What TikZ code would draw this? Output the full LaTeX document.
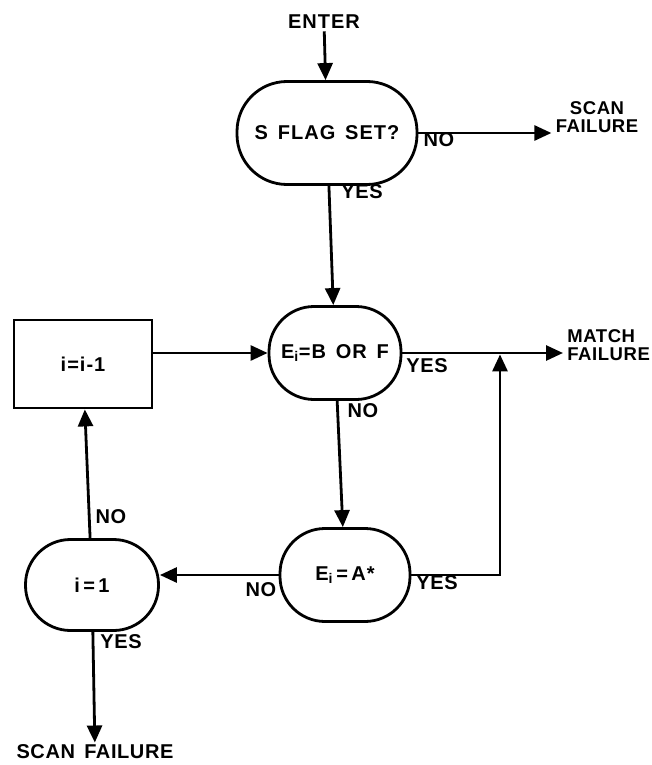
\documentclass[tikz,border=0pt]{standalone}
\usepackage{fontspec}
\setmainfont{Liberation Sans}
\newfontfamily\lett{Liberation Sans Bold}[LetterSpace=5,WordSpace=1.5]
\newfontfamily\labf{Liberation Sans Bold}[LetterSpace=3,WordSpace=1.5]
\usetikzlibrary{arrows.meta}
\begin{document}
\begin{tikzpicture}[x=1pt,y=-1pt,
  line width=2.8pt,
  >={Triangle[length=17pt,width=15pt]},
  txt/.style={font=\lett\fontsize{20}{18}\selectfont, inner sep=1pt},
  stad/.style={draw, rounded corners=45pt, inner sep=0pt, font=\lett\fontsize{20}{18}\selectfont},
  procbox/.style={draw, inner sep=0pt, font=\lett\fontsize{20}{18}\selectfont},
  lbl/.style={font=\labf\fontsize{20}{18}\selectfont, inner sep=1pt},
  endtxt/.style={font=\labf\fontsize{18.5}{18}\selectfont, inner sep=1pt, align=center}]
\useasboundingbox[fill=white] (0,0) rectangle (652,765);

\node[txt] (enter) at (324,22) {ENTER};
\node[stad, rounded corners=50pt, minimum width=180pt, minimum height=103pt] (sflag) at (327,133) {S FLAG SET?};
\node[endtxt] (scan1) at (597,117) {SCAN\\FAILURE};
\node[stad, minimum width=132pt, minimum height=93pt] (bof) at (335,353) {E\textsubscript{i}=B OR F};
\node[procbox, minimum width=138pt, minimum height=88pt] (dec) at (83,364) {i=i-1};
\node[endtxt, align=left, anchor=west] (match) at (565,345) {MATCH\\FAILURE};
\node[stad, minimum width=130pt, minimum height=93pt] (astar) at (345,575) {E\textsubscript{i}\,=\,A*};
\node[stad, minimum width=133pt, minimum height=91pt] (ione) at (92,585) {i\,=\,1};
\node[lbl] (scan2) at (95,752) {SCAN FAILURE};
\coordinate (join) at (500,353);

\draw[->] (enter) -- (sflag);
\draw[->, shorten >=2pt] (sflag.east) -- (sflag.east -| scan1.west);
\draw[->] (sflag) -- (bof);
\draw[->] (dec.east |- bof.west) -- (bof.west);
\draw[->, shorten >=2pt] (bof.east) -- (bof.east -| match.west);
\draw[->] (bof) -- (astar);
\draw[->, shorten >=1.4pt] (astar.east) -| (join);
\draw[->] (astar.west) -- (astar.west -| ione.east);
\draw[->] (ione) -- (dec);
\draw[->] (ione) -- (scan2);

\node[lbl] (l1) at (439,140) {NO};
\node[lbl] (l2) at (362,192) {YES};
\node[lbl] (l3) at (427,366) {YES};
\node[lbl] (l4) at (363,411) {NO};
\node[lbl] (l5) at (437,583) {YES};
\node[lbl] (l6) at (261,590) {NO};
\node[lbl] (l7) at (111,517) {NO};
\node[lbl] (l8) at (121,642) {YES};
\end{tikzpicture}
\end{document}
